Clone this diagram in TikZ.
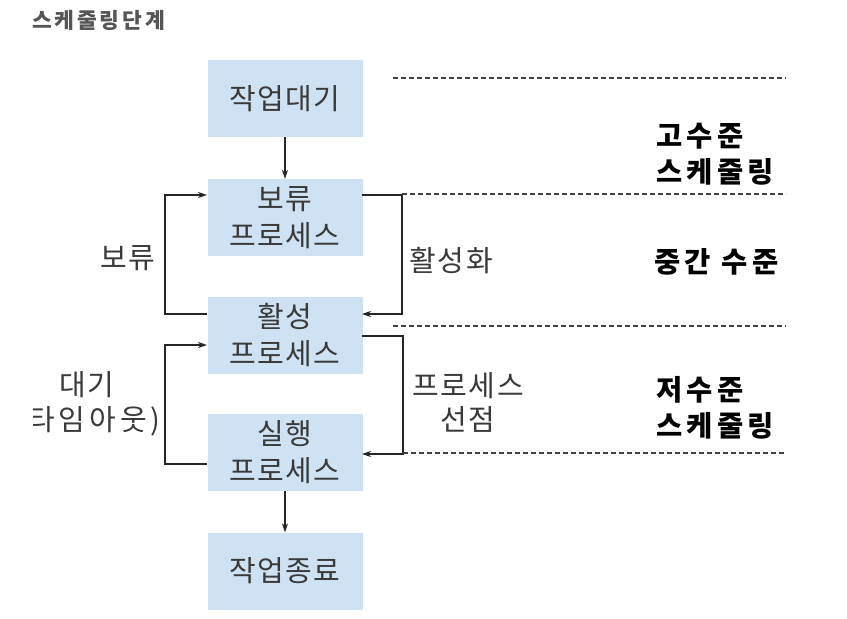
\documentclass[tikz,border=0pt]{standalone}
\usepackage{fontspec}
\setmainfont{Noto Sans CJK KR}
\usetikzlibrary{arrows.meta}
\definecolor{boxblue}{HTML}{CFE2F3}
\definecolor{txtgray}{HTML}{3A3A3A}
\definecolor{titlegray}{HTML}{555555}
\newcommand{\spaced}[1]{\addfontfeatures{LetterSpace=#1}}
\tikzset{
  procbox/.style={fill=boxblue, draw=none, minimum width=155pt, minimum height=77pt, inner sep=0pt,
    align=center, text=txtgray, font=\fontsize{29}{37}\selectfont\spaced{4}},
  flow/.style={draw=black!85, line width=1.2pt, -{Stealth[length=9pt,width=6pt]}},
  levelline/.style={draw=black!75, line width=1.1pt, dash pattern=on 5pt off 3pt},
  sidelabel/.style={text=txtgray, font=\fontsize{29}{34}\selectfont\spaced{6}, align=center, inner sep=0pt},
  levellabel/.style={text=black, font=\fontsize{28.5}{36}\selectfont\bfseries\spaced{15}, align=left, inner sep=0pt}
}
\begin{document}
\begin{tikzpicture}[x=1pt,y=-1pt]
\clip (0,0) rectangle (847,619);
\fill[white] (0,0) rectangle (847,619);
% title
\node[anchor=west, inner sep=0pt, text=titlegray, font=\fontsize{21.5}{24}\selectfont\bfseries\spaced{13}] (title) at (32,20) {스케줄링단계};
% boxes
\node[procbox] (job) at (285,98.5) {작업대기};
\node[procbox] (hold) at (285,217.5) {보류\\프로세스};
\node[procbox] (active) at (285,335.5) {활성\\프로세스};
\node[procbox] (run) at (285,452.5) {실행\\프로세스};
\node[procbox] (end) at (285,571) {작업종료};
% straight arrows
\draw[flow] (job.south) -- (hold.north);
\draw[flow] (run.south) -- (end.north);
% loops
\coordinate (hl) at (207,195);
\coordinate (hr) at (362,195);
\coordinate (al) at (207,314);
\coordinate (ar) at (362,314);
\coordinate (al2) at (207,345);
\coordinate (ar2) at (362,336);
\coordinate (rl) at (207,464);
\coordinate (rr) at (362,454);
\draw[flow] (al) -- (165,314) -- (165,195) -- (hl);
\draw[flow] (hr) -- (402,195) -- (402,314) -- (ar);
\draw[flow] (rl) -- (165,464) -- (165,345) -- (al2);
\draw[flow] (ar2) -- (403,336) -- (403,454) -- (rr);
% dashed level lines
\coordinate (d1a) at (393,78);  \coordinate (d1b) at (786,78);
\coordinate (d2a) at (402,194); \coordinate (d2b) at (786,194);
\coordinate (d3a) at (393,326); \coordinate (d3b) at (786,326);
\coordinate (d4a) at (403,453); \coordinate (d4b) at (786,453);
\draw[levelline] (d1a) -- (d1b);
\draw[levelline] (d2a) -- (d2b);
\draw[levelline] (d3a) -- (d3b);
\draw[levelline] (d4a) -- (d4b);
% side labels
\node[sidelabel] (lhold) at (128,258) {보류};
\node[sidelabel] (lwait) at (87,385) {대기};
\begin{scope}
\clip (33,400) rectangle (170,445);
\node[sidelabel, anchor=east, font=\fontsize{29}{34}\selectfont\spaced{14}] (ltime) at (161,421) {(타임아웃)};
\end{scope}
\node[sidelabel, anchor=west] (lact) at (409,261) {활성화};
\node[sidelabel] (lpre) at (468,402) {프로세스\\선점};
% level labels
\node[levellabel, anchor=west] (hi) at (656,154) {고수준\\스케줄링};
\node[levellabel, anchor=west] (mid) at (654,262) {중간 수준};
\node[levellabel, anchor=west] (lo) at (656,408) {저수준\\스케줄링};
\end{tikzpicture}
\end{document}
